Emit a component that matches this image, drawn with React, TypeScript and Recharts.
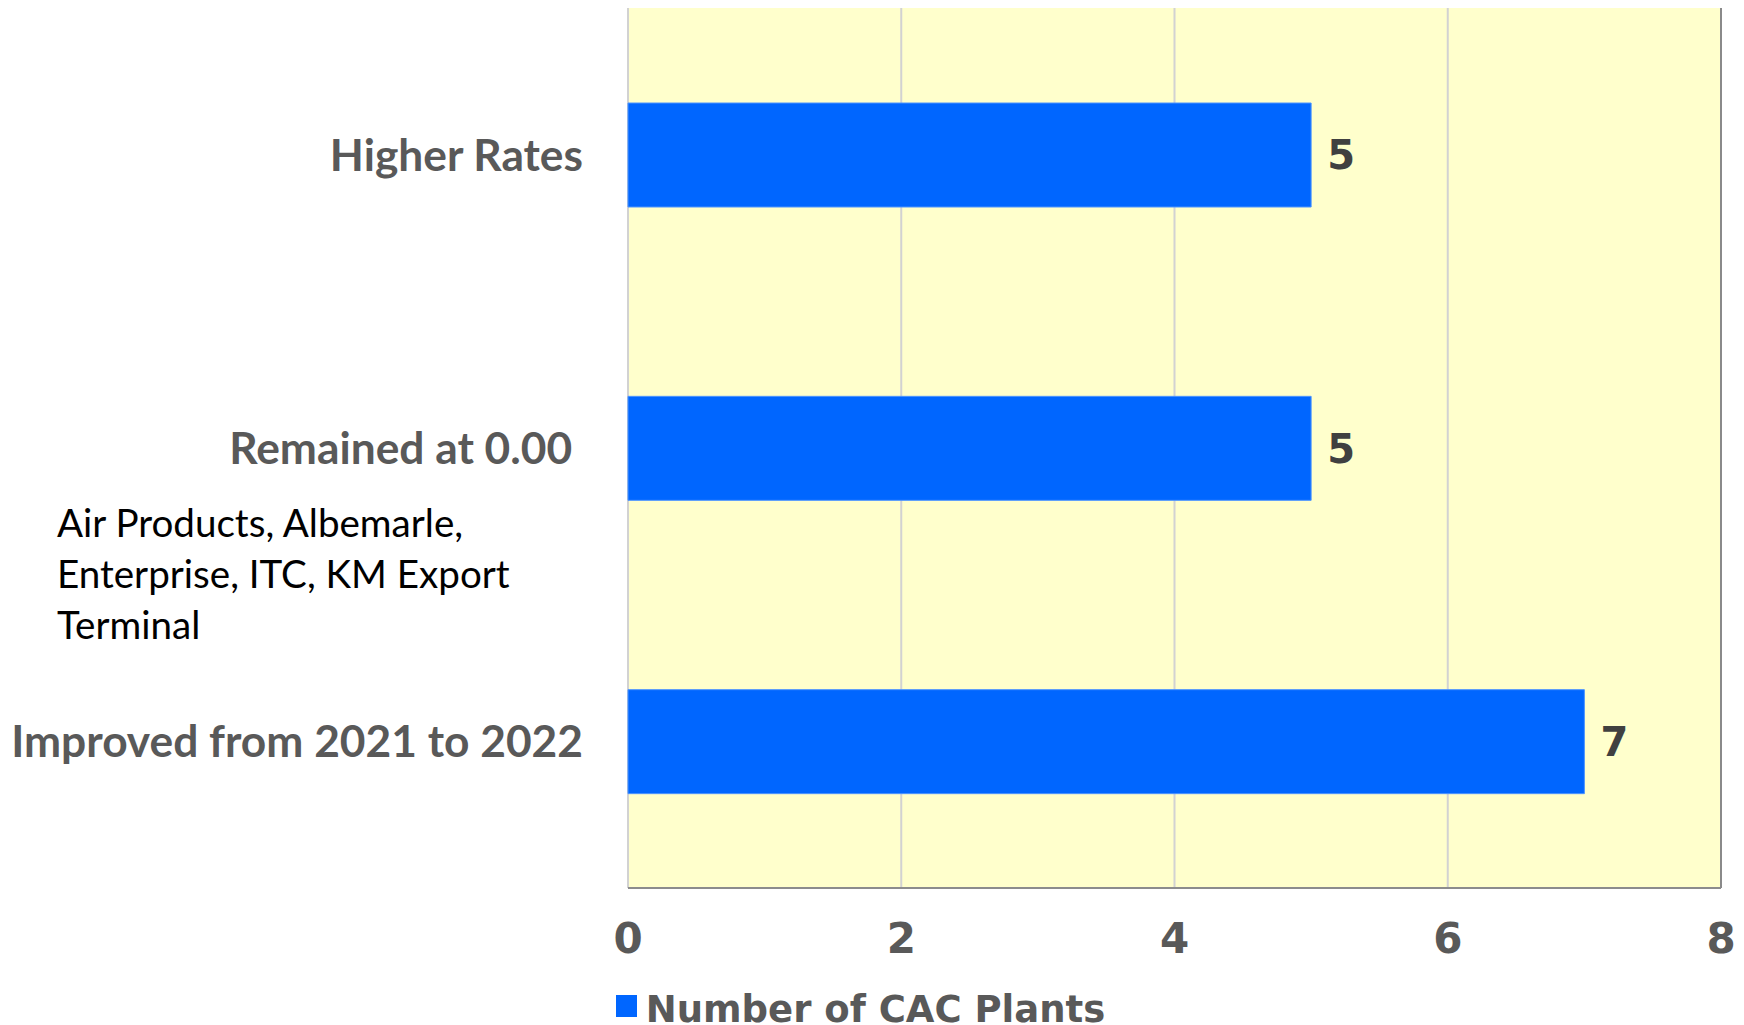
import React from 'react';
import {
  BarChart,
  Bar,
  XAxis,
  YAxis,
  CartesianGrid,
  LabelList,
  Legend,
  ReferenceLine,
} from 'recharts';

const categories = ['Higher Rates', 'Remained at 0.00 ', 'Improved from 2021 to 2022'];
const plantCounts = [5, 5, 7];
const xTicks = [0, 2, 4, 6, 8];
const seriesName = 'Number of CAC Plants';
const noteLines = ['Air Products, Albemarle,', 'Enterprise, ITC, KM Export', 'Terminal'];

const data = categories.map((c, i) => ({ category: c, value: plantCounts[i] }));

const W = 1744;
const H = 1045;

const CategoryTick = (props: any) => {
  const { x, y, payload } = props;
  return (
    <text
      x={x}
      y={y}
      dy="0.36em"
      textAnchor="end"
      fill="#595959"
      fontFamily="Lato, 'Open Sans', sans-serif"
      fontWeight={700}
      fontSize={44.3}
      xmlSpace="preserve"
      style={{ whiteSpace: 'pre' }}
    >
      {payload.value}
    </text>
  );
};

const LegendContent = () => (
  <div style={{ height: 55, display: 'flex', justifyContent: 'center', alignItems: 'flex-start' }}>
    <div style={{ width: 21, height: 22, background: '#0066FF', marginTop: 5, marginRight: 9 }} />
    <div
      style={{
        fontFamily: "'DejaVu Sans', sans-serif",
        fontWeight: 700,
        fontSize: 37,
        lineHeight: '43px',
        marginTop: -2,
        color: '#595959',
        whiteSpace: 'nowrap',
      }}
    >
      {seriesName}
    </div>
  </div>
);

export default function App() {
  return (
    <div style={{ position: 'fixed', top: 0, left: 0, width: W, height: 1025, overflow: 'hidden', background: '#fff' }}>
      <BarChart
        width={W}
        height={H}
        data={data}
        layout="vertical"
        margin={{ top: 8, right: 23, left: 0, bottom: 0 }}
        barSize={104}
      >
        <CartesianGrid horizontal={false} vertical stroke="#d2d2d2" strokeWidth={2} fill="#FFFFCC" />
        <XAxis
          type="number"
          domain={[0, 8]}
          ticks={xTicks}
          tickLine={false}
          axisLine={{ stroke: '#8c8c8c', strokeWidth: 2 }}
          tickMargin={29}
          height={102}
          tick={{ fill: '#595959', fontSize: 42, fontWeight: 700, fontFamily: "'DejaVu Sans', sans-serif" }}
        />
        <XAxis
          xAxisId="top"
          orientation="top"
          type="number"
          domain={[0, 8]}
          ticks={xTicks}
          tick={false}
          tickLine={false}
          height={0}
          axisLine={{ stroke: '#8a8a8a', strokeWidth: 2 }}
        />
        <YAxis
          type="category"
          dataKey="category"
          width={628}
          tickLine={false}
          axisLine={false}
          tickMargin={39}
          tick={<CategoryTick />}
          interval={0}
        />
        <ReferenceLine x={8} stroke="#8a8a8a" strokeWidth={2} />
        <Legend verticalAlign="bottom" content={<LegendContent />} />
        <Bar dataKey="value" name={seriesName} fill="#0066FF" stroke="#4d94ff" strokeWidth={1} isAnimationActive={false}>
          <LabelList
            dataKey="value"
            position="right"
            offset={16}
            fill="#404040"
            fontSize={40}
            fontWeight={700}
            fontFamily="'DejaVu Sans', sans-serif"
          />
        </Bar>
      </BarChart>
      <svg
        width={600}
        height={200}
        style={{ position: 'absolute', left: 0, top: 480, pointerEvents: 'none' }}
      >
        {noteLines.map((line, i) => (
          <text
            key={i}
            x={57}
            y={57 + i * 51}
            fill="#000"
            fontFamily="Lato, sans-serif"
            fontSize={38.6}
          >
            {line}
          </text>
        ))}
      </svg>
    </div>
  );
}
